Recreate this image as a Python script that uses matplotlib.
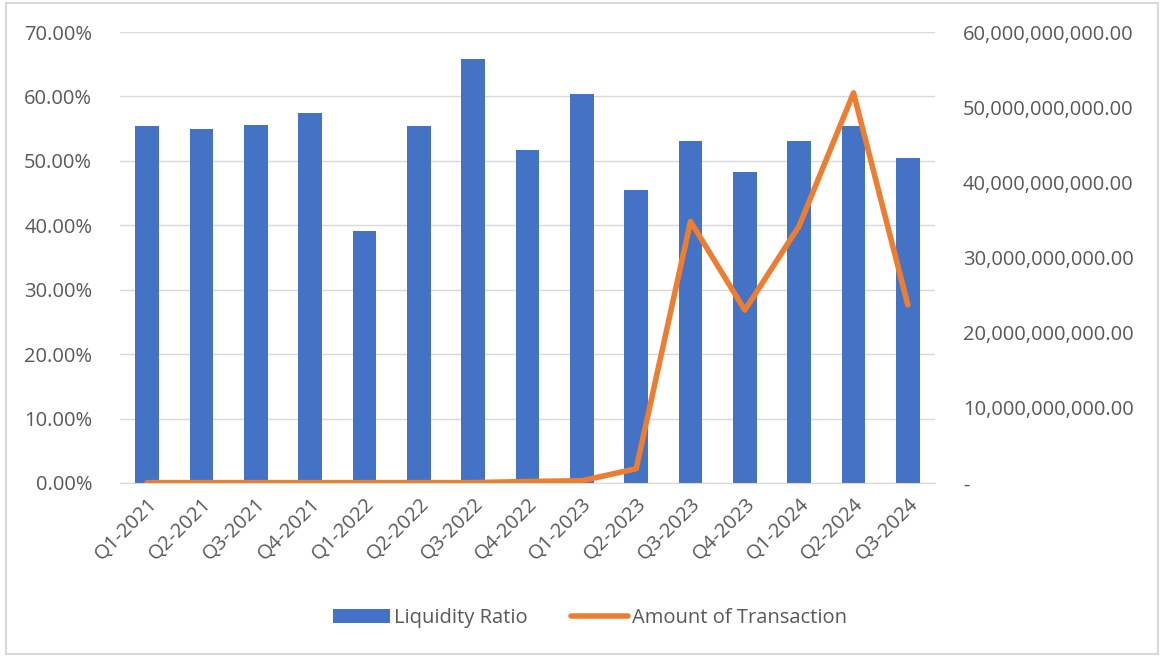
import matplotlib.pyplot as plt
from matplotlib.ticker import FuncFormatter

# data
quarters = ["Q1-2021", "Q2-2021", "Q3-2021", "Q4-2021", "Q1-2022", "Q2-2022",
            "Q3-2022", "Q4-2022", "Q1-2023", "Q2-2023", "Q3-2023", "Q4-2023",
            "Q1-2024", "Q2-2024", "Q3-2024"]
liquidity_ratio = [55.4, 54.9, 55.6, 57.4, 39.1, 55.4, 65.8, 51.7, 60.4,
                   45.5, 53.1, 48.3, 53.1, 55.4, 50.4]
amount_transaction = [0.05e9, 0.05e9, 0.05e9, 0.05e9, 0.05e9, 0.05e9, 0.05e9,
                      0.2e9, 0.3e9, 1.9e9, 34.8e9, 23.0e9, 34.2e9, 51.9e9, 23.7e9]

plt.rcParams['font.family'] = ['Open Sans', 'DejaVu Sans']
grey = '#595959'

fig = plt.figure(figsize=(11.64, 6.57), dpi=100)
ax = fig.add_axes([120/1164, 1 - 483/657, 815/1164, 451/657])
ax2 = ax.twinx()

x = range(len(quarters))
ax.bar(x, [v / 100 for v in liquidity_ratio], width=0.43, color='#4472C4',
       label='Liquidity Ratio', zorder=2)
ax2.plot(x, amount_transaction, color='#ED7D31', linewidth=4,
         solid_capstyle='round', label='Amount of Transaction', zorder=3)

ax.set_xlim(-0.5, len(quarters) - 0.5)
ax.set_ylim(0, 0.7)
ax.set_yticks([i / 10 for i in range(8)])
ax.yaxis.set_major_formatter(FuncFormatter(lambda v, p: f'{v*100:.2f}%'))
ax2.set_ylim(0, 60e9)
ax2.set_yticks([i * 10e9 for i in range(7)])
ax2.yaxis.set_major_formatter(
    FuncFormatter(lambda v, p: '-' if v == 0 else f'{v:,.2f}'))

ax.grid(axis='y', color='#D9D9D9', linewidth=1, zorder=0)
ax.set_axisbelow(True)
for a in (ax, ax2):
    for s in a.spines.values():
        s.set_visible(False)
    a.tick_params(length=0, labelsize=14.5, labelcolor=grey)
ax.spines['bottom'].set_visible(True)
ax.spines['bottom'].set_color('#D9D9D9')
ax.tick_params(axis='y', pad=20)
ax2.tick_params(axis='y', pad=20)

ax.set_xticks(list(x))
ax.set_xticklabels(quarters, rotation=45, ha='right', rotation_mode='anchor')
ax.tick_params(axis='x', pad=8)

h1, l1 = ax.get_legend_handles_labels()
h2, l2 = ax2.get_legend_handles_labels()
fig.legend(h1 + h2, l1 + l2, loc='center', bbox_to_anchor=(590/1164, 1 - 618/657),
           ncol=2, frameon=False, fontsize=14.5, labelcolor=grey,
           handlelength=2.8, handletextpad=0.2, columnspacing=2.2)

# light border around the chart area
fig.patches.append(plt.Rectangle((6/1164, 3/657), 1152/1164, 651/657,
                                 transform=fig.transFigure, fill=False,
                                 edgecolor='#D9D9D9', linewidth=1.5))

plt.savefig('out.png', dpi=100)
